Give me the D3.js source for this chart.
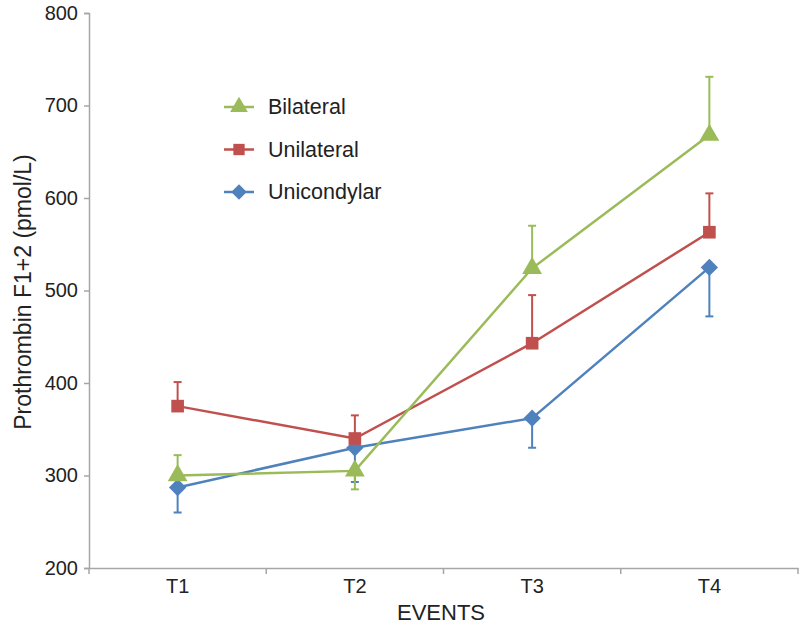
<!DOCTYPE html>
<html><head><meta charset="utf-8">
<script src="https://cdn.jsdelivr.net/npm/d3@7"></script>
<style>body{margin:0;background:#fff}svg{font-family:"Liberation Sans",Arial,sans-serif}</style>
</head><body><svg id="c" width="800" height="629"></svg>
<script>
const categories = ["T1","T2","T3","T4"];
const seriesNames = ["Bilateral","Unilateral","Unicondylar"];
const bilateral = [300, 305, 524, 668];
const unilateral = [375, 340, 443, 563];
const unicondylar = [287, 330, 362, 525];
// error bar ends (one-sided, as drawn)
const bilateralErr = [322, 285, 570, 731];
const unilateralErr = [401, 365, 495, 605];
const unicondylarErr = [260, 293, 330, 472];
const yTicks = [200,300,400,500,600,700,800];

const colors = {Bilateral:"#9BBB59", Unilateral:"#C0504D", Unicondylar:"#4F81BD"};
const diamond = {draw(ctx, size){const r=Math.sqrt(size/2);ctx.moveTo(0,-r);ctx.lineTo(r,0);ctx.lineTo(0,r);ctx.lineTo(-r,0);ctx.closePath();}};
const series = [
  {name:"Unicondylar", values:unicondylar, err:unicondylarErr, shape:diamond},
  {name:"Unilateral", values:unilateral, err:unilateralErr, shape:d3.symbolSquare},
  {name:"Bilateral", values:bilateral, err:bilateralErr, shape:d3.symbolTriangle}
];
const sizes = {Bilateral:170, Unilateral:160, Unicondylar:150};

const svg = d3.select("#c");
const x = d3.scaleBand().domain(categories).range([89, 798]);
const y = d3.scaleLinear().domain([200, 800]).range([568, 13]);
const axisColor = "#a6a6a6";

const yAxis = svg.append("g").attr("transform","translate(89,0)")
  .call(d3.axisLeft(y).tickValues(yTicks).tickSize(5).tickPadding(6));
yAxis.selectAll("path,line").attr("stroke",axisColor).attr("stroke-width",1.5);
yAxis.selectAll("text").attr("font-size",20).attr("fill","#222").attr("font-family","Liberation Sans, Arial, sans-serif");

const xAxis = svg.append("g").attr("transform","translate(0,568)")
  .call(d3.axisBottom(x).tickSize(0).tickPadding(11));
xAxis.selectAll("path").attr("stroke",axisColor).attr("stroke-width",1.5);
xAxis.selectAll("text").attr("font-size",20).attr("fill","#222").attr("font-family","Liberation Sans, Arial, sans-serif");
// boundary ticks
const bounds = categories.map(c=>x(c)).concat([x.range()[1]]);
svg.append("g").selectAll("line").data(bounds).join("line")
  .attr("x1",d=>d).attr("x2",d=>d).attr("y1",568).attr("y2",574)
  .attr("stroke",axisColor).attr("stroke-width",1.5);

svg.append("text").attr("x",441).attr("y",620).attr("text-anchor","middle")
  .attr("font-size",22).attr("fill","#222").text("EVENTS");
svg.append("text").attr("transform","translate(31,292) rotate(-90)").attr("text-anchor","middle")
  .attr("font-size",23).attr("fill","#222").text("Prothrombin F1+2 (pmol/L)");

const cx = c => x(c) + x.bandwidth()/2;
const line = d3.line().x((d,i)=>cx(categories[i])).y(d=>y(d));

series.forEach(s=>{
  const col = colors[s.name];
  const g = svg.append("g");
  g.selectAll("line.e").data(s.values).join("line")
    .attr("x1",(d,i)=>cx(categories[i])).attr("x2",(d,i)=>cx(categories[i]))
    .attr("y1",d=>y(d)).attr("y2",(d,i)=>y(s.err[i]))
    .attr("stroke",col).attr("stroke-width",2);
  g.selectAll("line.c").data(s.err).join("line")
    .attr("x1",(d,i)=>cx(categories[i])-4).attr("x2",(d,i)=>cx(categories[i])+4)
    .attr("y1",d=>y(d)).attr("y2",d=>y(d))
    .attr("stroke",col).attr("stroke-width",2);
  g.append("path").attr("d",line(s.values)).attr("fill","none").attr("stroke",col).attr("stroke-width",2.5);
  g.selectAll("path.m").data(s.values).join("path")
    .attr("transform",(d,i)=>`translate(${cx(categories[i])},${y(d)})`)
    .attr("d",d3.symbol().type(s.shape).size(sizes[s.name])).attr("fill",col);
});

// legend
const legendData = [
  {name:"Bilateral", shape:d3.symbolTriangle},
  {name:"Unilateral", shape:d3.symbolSquare},
  {name:"Unicondylar", shape:diamond}
];
const leg = svg.append("g");
legendData.forEach((d,i)=>{
  const yy = 107 + i*42.5;
  const col = colors[d.name];
  leg.append("line").attr("x1",224).attr("x2",254).attr("y1",yy).attr("y2",yy).attr("stroke",col).attr("stroke-width",2.5);
  leg.append("path").attr("transform",`translate(239,${yy})`).attr("d",d3.symbol().type(d.shape).size(sizes[d.name]*0.8)).attr("fill",col);
  leg.append("text").attr("x",268).attr("y",yy+7).attr("font-size",21.5).attr("fill","#222").text(d.name);
});
</script></body></html>
